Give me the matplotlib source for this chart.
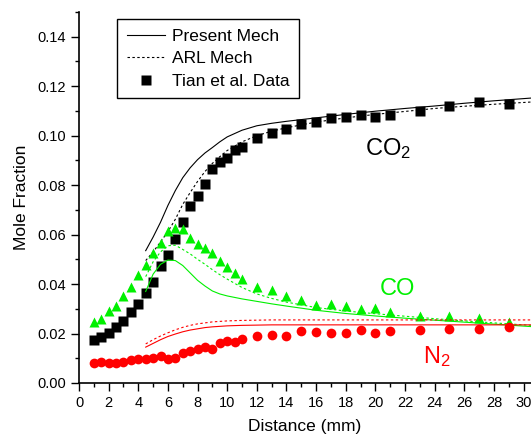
import matplotlib
matplotlib.use('Agg')
import matplotlib.pyplot as plt
from matplotlib.ticker import MultipleLocator

plt.rcParams['font.family'] = ['Liberation Sans', 'DejaVu Sans']
plt.rcParams['mathtext.default'] = 'regular'

# ---- measured data (Tian et al.) ----
x_exp = [1, 1.5, 2, 2.5, 3, 3.5, 4, 4.5, 5, 5.5, 6, 6.5, 7, 7.5, 8, 8.5, 9, 9.5,
         10, 10.5, 11, 12, 13, 14, 15, 16, 17, 18, 19, 20, 21, 23, 25, 27, 29]
co2_exp = [0.0174, 0.0187, 0.0204, 0.0225, 0.0251, 0.0285, 0.0319, 0.0363, 0.0408,
           0.0471, 0.0518, 0.0582, 0.0649, 0.0714, 0.0757, 0.0806, 0.0866, 0.0895,
           0.0909, 0.0942, 0.0954, 0.0990, 0.1012, 0.1028, 0.1046, 0.1055, 0.1071,
           0.1074, 0.1082, 0.1074, 0.1082, 0.1099, 0.1119, 0.1135, 0.1127]
co_exp = [0.0248, 0.0258, 0.0290, 0.0312, 0.0352, 0.0390, 0.0437, 0.0478, 0.0525,
          0.0568, 0.0613, 0.0628, 0.0622, 0.0586, 0.0563, 0.0545, 0.0526, 0.0494,
          0.0470, 0.0446, 0.0420, 0.0388, 0.0375, 0.0352, 0.0336, 0.0316, 0.0319,
          0.0313, 0.0300, 0.0304, 0.0285, 0.0269, 0.0272, 0.0264, 0.0246]
n2_exp = [0.0082, 0.0085, 0.0080, 0.0082, 0.0084, 0.0093, 0.0096, 0.0096, 0.0100,
          0.0108, 0.0096, 0.0100, 0.0123, 0.0131, 0.0136, 0.0145, 0.0136, 0.0160,
          0.0171, 0.0167, 0.0177, 0.0190, 0.0194, 0.0190, 0.0210, 0.0205, 0.0201,
          0.0204, 0.0215, 0.0201, 0.0212, 0.0215, 0.0219, 0.0219, 0.0228]

# ---- model predictions ----
x_mod = [4.5, 5, 5.5, 6, 6.5, 7, 7.5, 8, 8.5, 9, 9.5, 10, 11, 12, 13, 14, 16,
         18, 20, 22, 24, 26, 28, 30.5]
co2_present = [0.0535, 0.0590, 0.0650, 0.0718, 0.0778, 0.0830, 0.0870, 0.0903,
               0.0930, 0.0952, 0.0975, 0.0995, 0.1022, 0.1040, 0.1050, 0.1058,
               0.1072, 0.1086, 0.1099, 0.1110, 0.1120, 0.1131, 0.1141, 0.1152]
co2_arl = [0.0495, 0.0530, 0.0570, 0.0612, 0.0662, 0.0722, 0.0770, 0.0815, 0.0855,
           0.0888, 0.0915, 0.0940, 0.0975, 0.1000, 0.1018, 0.1032, 0.1055, 0.1072,
           0.1086, 0.1098, 0.1110, 0.1119, 0.1127, 0.1136]
co_present = [0.0370, 0.0440, 0.0480, 0.0497, 0.0495, 0.0475, 0.0445, 0.0415,
              0.0392, 0.0372, 0.0360, 0.0352, 0.0340, 0.0330, 0.0320, 0.0311,
              0.0294, 0.0281, 0.0271, 0.0262, 0.0254, 0.0246, 0.0238, 0.0228]
co_arl = [0.0430, 0.0490, 0.0530, 0.0555, 0.0557, 0.0540, 0.0522, 0.0500, 0.0480,
          0.0458, 0.0438, 0.0420, 0.0386, 0.0360, 0.0342, 0.0327, 0.0305, 0.0291,
          0.0280, 0.0270, 0.0260, 0.0251, 0.0243, 0.0233]
n2_present = [0.0145, 0.0160, 0.0175, 0.0188, 0.0198, 0.0207, 0.0214, 0.0219,
              0.0224, 0.0227, 0.0229, 0.0231, 0.0233, 0.0234, 0.0235, 0.0235,
              0.0235, 0.0235, 0.0235, 0.0235, 0.0235, 0.0235, 0.0235, 0.0235]
n2_arl = [0.0158, 0.0175, 0.0190, 0.0203, 0.0215, 0.0225, 0.0233, 0.0239, 0.0243,
          0.0247, 0.0249, 0.0251, 0.0253, 0.0254, 0.0255, 0.0255, 0.0255, 0.0255,
          0.0255, 0.0255, 0.0255, 0.0255, 0.0255, 0.0255]

GREEN = '#00f000'
RED = '#ff0000'
dots = (0, (2.2, 2.2))

fig = plt.figure(figsize=(5.31, 4.38), dpi=100)
ax = fig.add_axes([0.1488, 0.1256, 0.8512, 0.847])

# CO2
ax.plot(x_mod, co2_present, color='black', lw=0.8, label='Present Mech')
ax.plot(x_mod, co2_arl, color='black', lw=0.8, linestyle=dots, label='ARL Mech')
ax.plot(x_exp, co2_exp, 's', color='black', ms=6.5, mec='none',
        label='Tian et al. Data')
# CO
ax.plot(x_mod, co_present, color=GREEN, lw=0.8)
ax.plot(x_mod, co_arl, color=GREEN, lw=0.8, linestyle=dots)
ax.plot(x_exp, co_exp, '^', color=GREEN, ms=7.5, mec='none')
# N2
ax.plot(x_mod, n2_present, color=RED, lw=0.8)
ax.plot(x_mod, n2_arl, color=RED, lw=0.8, linestyle=dots)
ax.plot(x_exp, n2_exp, 'o', color=RED, ms=7, mec='none')

ax.text(19.3, 0.0923, 'CO$_2$', fontsize=17, color='black')
ax.text(20.3, 0.0356, 'CO', fontsize=17, color=GREEN)
ax.text(23.2, 0.0081, 'N$_2$', fontsize=17, color=RED)

ax.set_xlim(0, 30.5)
ax.set_ylim(0, 0.15)
ax.xaxis.set_major_locator(MultipleLocator(2))
ax.xaxis.set_minor_locator(MultipleLocator(1))
ax.yaxis.set_major_locator(MultipleLocator(0.02))
ax.yaxis.set_minor_locator(MultipleLocator(0.01))
ax.yaxis.set_major_formatter(plt.FormatStrFormatter('%.2f'))
ax.tick_params(which='major', length=6, width=1, labelsize=10.5, direction='out')
ax.tick_params(which='minor', length=3, width=1, direction='out')
for side in ('top', 'right'):
    ax.spines[side].set_visible(False)
for side in ('left', 'bottom'):
    ax.spines[side].set_linewidth(1.2)

ax.set_xlabel('Distance (mm)', fontsize=12.5, labelpad=6)
ax.set_ylabel('Mole Fraction', fontsize=12.5, labelpad=6)

leg = ax.legend(loc='upper left', bbox_to_anchor=(0.084, 0.981), fontsize=12.5,
                frameon=True, fancybox=False, edgecolor='black', framealpha=1,
                borderaxespad=0, handlelength=2.2, handletextpad=0.4,
                labelspacing=0.42, borderpad=0.55, numpoints=1)
leg.get_frame().set_linewidth(1.0)

fig.savefig('out.png', dpi=100)
